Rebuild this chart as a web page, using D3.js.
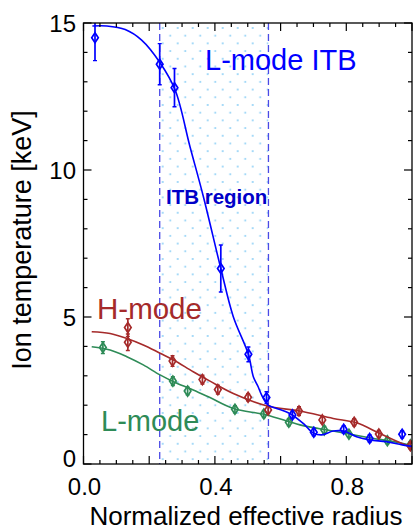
<!DOCTYPE html>
<html><head><meta charset="utf-8">
<script src="https://cdn.jsdelivr.net/npm/d3@7"></script>
<style>body{margin:0;background:#fff}svg{display:block}text{font-family:"Liberation Sans",Arial,Helvetica,sans-serif}</style>
</head><body>
<script>
// ---- data ----
const itbRegion = [0.232, 0.563];
const xTickLabels = ["0.0", "0.4", "0.8"];
const yTickLabels = ["0", "5", "10", "15"];

const blueLineX = [0.027,0.071,0.127,0.177,0.233,0.279,0.324,0.365,0.418,0.456,0.502,0.517,0.532,0.542,0.562,0.588,0.628,0.669,0.699,0.725,0.760,0.792,0.831,0.871,0.922,0.970,1.0];
const blueLineY = [14.9,14.9,14.78,14.42,13.65,12.72,10.8,9.09,6.65,5.01,3.73,2.97,2.62,2.35,2.0,1.89,1.72,1.38,1.06,0.99,1.12,1.12,0.93,0.82,0.76,0.65,0.6];
const bluePtX = [0.035,0.232,0.277,0.418,0.502,0.557,0.636,0.701,0.792,0.871,0.970];
const bluePtY = [14.5,13.6,12.8,6.65,3.73,2.26,1.67,1.08,1.18,0.87,1.01];
const bluePtE = [0.78,0.7,0.65,0.8,0.25,0.2,0.12,0.12,0.12,0.12,0.12];

const redLineX = [0.025,0.081,0.132,0.182,0.233,0.274,0.334,0.385,0.456,0.557,0.659,0.760,0.831,0.902,0.973,1.0];
const redLineY = [4.50,4.44,4.27,4.05,3.77,3.54,3.14,2.82,2.40,1.98,1.80,1.55,1.40,1.04,0.68,0.58];
const redPtX = [0.135,0.135,0.271,0.362,0.409,0.501,0.562,0.656,0.727,0.824,0.899,0.995];
const redPtY = [4.64,4.14,3.50,2.87,2.53,2.27,1.84,1.80,1.50,1.42,1.02,0.62];
const redPtE = [0.3,0.28,0.18,0.15,0.15,0.12,0.12,0.15,0.1,0.12,0.12,0.1];

const greenLineX = [0.025,0.081,0.132,0.182,0.233,0.274,0.334,0.385,0.456,0.557,0.659,0.760,0.862,0.963,1.0];
const greenLineY = [3.99,3.88,3.65,3.37,3.03,2.80,2.52,2.26,1.89,1.67,1.33,1.12,0.91,0.72,0.62];
const greenPtX = [0.059,0.272,0.317,0.461,0.549,0.625,0.733,0.808,0.925,0.995];
const greenPtY = [3.96,2.82,2.48,1.86,1.70,1.42,1.16,1.01,0.79,0.65];
const greenPtE = [0.2,0.15,0.13,0.12,0.12,0.12,0.12,0.1,0.1,0.1];

// ---- layout ----
const W = 413, H = 530;
const m = {left: 83.5, right: 412, top: 23, bottom: 464};
const x = d3.scaleLinear().domain([0, 1]).range([m.left, m.right]);
const y = d3.scaleLinear().domain([0, 15]).range([m.bottom, m.top]);

const svg = d3.select("body").append("svg").attr("width", W).attr("height", H);
const defs = svg.append("defs");
const pat = defs.append("pattern").attr("id", "dots").attr("patternUnits", "userSpaceOnUse")
  .attr("width", 15).attr("height", 15.4).attr("x", x(itbRegion[0]) + 2).attr("y", m.top + 4);
pat.append("circle").attr("cx", 1).attr("cy", 1).attr("r", 0.95).attr("fill", "#80caf5");
pat.append("circle").attr("cx", 8.5).attr("cy", 8.7).attr("r", 0.95).attr("fill", "#80caf5");
defs.append("clipPath").attr("id", "plotclip").append("rect")
  .attr("x", m.left).attr("y", m.top).attr("width", m.right - m.left).attr("height", m.bottom - m.top);

// ITB region
svg.append("rect").attr("x", x(itbRegion[0])).attr("y", m.top)
  .attr("width", x(itbRegion[1]) - x(itbRegion[0])).attr("height", m.bottom - m.top)
  .attr("fill", "url(#dots)");
svg.selectAll(".itbline").data(itbRegion).enter().append("line")
  .attr("x1", d => x(d)).attr("x2", d => x(d)).attr("y1", m.top).attr("y2", m.bottom)
  .attr("stroke", "#4a4ae6").attr("stroke-width", 1.3).attr("stroke-dasharray", "7,4");

// text labels
svg.append("text").attr("x", 205).attr("y", 70).attr("font-size", 29).attr("fill", "#0000ff").text("L-mode ITB");
svg.append("text").attr("x", 166).attr("y", 204).attr("font-size", 20.5).attr("font-weight", "bold").attr("fill", "#0000c8").text("ITB region");
svg.append("text").attr("x", 97).attr("y", 319).attr("font-size", 29.5).attr("fill", "#a52a2a").text("H-mode");
svg.append("text").attr("x", 101).attr("y", 431).attr("font-size", 29).attr("fill", "#2e8b57").text("L-mode");

const g = svg.append("g").attr("clip-path", "url(#plotclip)");
const line = d3.line().x(d => x(d[0])).y(d => y(d[1])).curve(d3.curveCatmullRom.alpha(0.5));

function series(lx, ly, px, py, pe, color) {
  g.append("path").datum(lx.map((v, i) => [v, ly[i]])).attr("d", line)
    .attr("fill", "none").attr("stroke", color).attr("stroke-width", 1.6);
  const pts = px.map((v, i) => ({x: v, y: py[i], e: pe[i]}));
  const s = g.append("g").selectAll("g").data(pts).enter().append("g");
  s.append("line").attr("x1", d => x(d.x)).attr("x2", d => x(d.x))
    .attr("y1", d => y(d.y + d.e)).attr("y2", d => y(d.y - d.e))
    .attr("stroke", color).attr("stroke-width", 1.7);
  s.append("line").attr("x1", d => x(d.x) - 2).attr("x2", d => x(d.x) + 2)
    .attr("y1", d => y(d.y + d.e)).attr("y2", d => y(d.y + d.e)).attr("stroke", color).attr("stroke-width", 1.4);
  s.append("line").attr("x1", d => x(d.x) - 2).attr("x2", d => x(d.x) + 2)
    .attr("y1", d => y(d.y - d.e)).attr("y2", d => y(d.y - d.e)).attr("stroke", color).attr("stroke-width", 1.4);
  s.append("path").attr("d", d => {
    const cx = x(d.x), cy = y(d.y);
    return `M${cx},${cy - 5}L${cx + 3.3},${cy}L${cx},${cy + 5}L${cx - 3.3},${cy}Z`;
  }).attr("fill", "none").attr("stroke", color).attr("stroke-width", 1.7);
}
series(greenLineX, greenLineY, greenPtX, greenPtY, greenPtE, "#2e8b57");
series(redLineX, redLineY, redPtX, redPtY, redPtE, "#a52a2a");
series(blueLineX, blueLineY, bluePtX, bluePtY, bluePtE, "#0000ff");

// axes (box with ticks)
const ax = svg.append("g").attr("stroke", "#000").attr("fill", "none");
ax.append("rect").attr("x", m.left).attr("y", m.top).attr("width", m.right - m.left).attr("height", m.bottom - m.top).attr("stroke-width", 1.3);
const xMinor = d3.range(0, 1.0001, 0.05);
const xMajor = d3.range(0, 1.0001, 0.2);
const yMinor = d3.range(0, 15.001, 1);
const yMajor = d3.range(0, 15.001, 5);
function isMajor(v, arr) { return arr.some(a => Math.abs(a - v) < 1e-6); }
xMinor.forEach(v => {
  const L = isMajor(v, xMajor) ? 8 : 4;
  ax.append("line").attr("x1", x(v)).attr("x2", x(v)).attr("y1", m.bottom).attr("y2", m.bottom - L).attr("stroke-width", 1.2);
  ax.append("line").attr("x1", x(v)).attr("x2", x(v)).attr("y1", m.top).attr("y2", m.top + L).attr("stroke-width", 1.2);
});
yMinor.forEach(v => {
  const L = isMajor(v, yMajor) ? 8 : 4;
  ax.append("line").attr("x1", m.left).attr("x2", m.left + L).attr("y1", y(v)).attr("y2", y(v)).attr("stroke-width", 1.2);
  ax.append("line").attr("x1", m.right).attr("x2", m.right - L).attr("y1", y(v)).attr("y2", y(v)).attr("stroke-width", 1.2);
});

// tick labels
svg.selectAll(".xt").data(xTickLabels).enter().append("text")
  .attr("x", d => x(+d) + 1).attr("y", 495).attr("text-anchor", "middle").attr("font-size", 24).attr("fill", "#000").text(d => d);
svg.selectAll(".yt").data(yTickLabels).enter().append("text")
  .attr("x", 76).attr("y", d => +d === 0 ? y(0) + 3 : y(+d) + 9).attr("text-anchor", "end").attr("font-size", 24).attr("fill", "#000").text(d => d);

// axis titles
svg.append("text").attr("x", 246).attr("y", 525).attr("text-anchor", "middle").attr("font-size", 26).attr("fill", "#000").text("Normalized effective radius");
svg.append("text").attr("transform", "translate(31,240) rotate(-90)").attr("text-anchor", "middle").attr("font-size", 27).attr("fill", "#000").text("Ion temperature [keV]");
</script>
</body></html>
